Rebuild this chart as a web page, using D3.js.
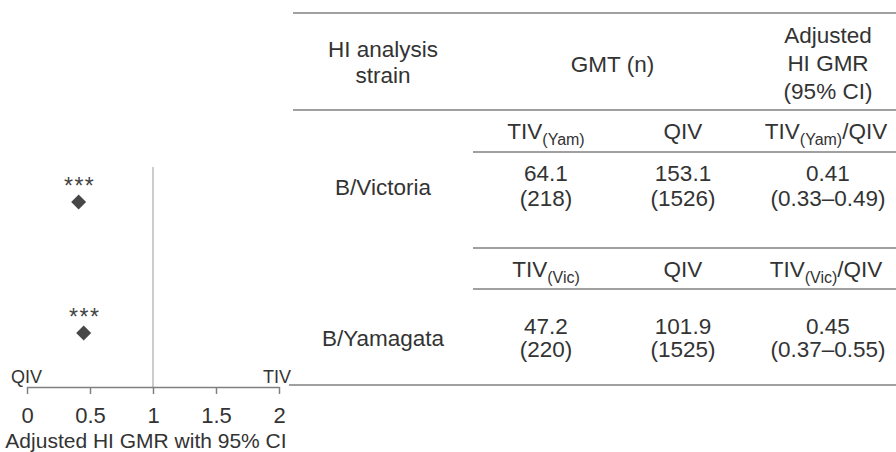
<!DOCTYPE html>
<html>
<head>
<meta charset="utf-8">
<script src="https://cdn.jsdelivr.net/npm/d3@7"></script>
<style>
  html, body { margin: 0; padding: 0; background: #fff; }
  svg { display: block; font-family: "Liberation Sans", Arial, Helvetica, sans-serif; }
</style>
</head>
<body>
<svg id="chart" width="896" height="452"></svg>
<script>
// ---- data ----
const strains = ["B/Victoria", "B/Yamagata"];
const tivStrain = ["Yam", "Vic"];
const gmtTIV = [64.1, 47.2];
const nTIV = [218, 220];
const gmtQIV = [153.1, 101.9];
const nQIV = [1526, 1525];
const gmr = [0.41, 0.45];
const ciLow = [0.33, 0.37];
const ciHigh = [0.49, 0.55];
const significance = ["***", "***"];
const xTicks = [0, 0.5, 1, 1.5, 2];

// ---- layout (positions only) ----
const W = 896, H = 452;
const textColor = "#333";
const lineColor = "#808080";
const fs = 22.5;

const svg = d3.select("#chart");

// Forest plot scales
const x = d3.scaleLinear().domain([0, 2]).range([27, 279]);
const y = d3.scalePoint().domain(strains).range([202, 333]);
const axisY = 387;

// reference line at 1
svg.append("line")
  .attr("x1", x(1)).attr("x2", x(1))
  .attr("y1", 167).attr("y2", axisY)
  .attr("stroke", "#9a9a9a").attr("stroke-width", 1);

// axis
const axis = d3.axisBottom(x).tickValues(xTicks).tickSize(7).tickSizeOuter(0)
  .tickPadding(13).tickFormat(d => String(d));
const gAxis = svg.append("g").attr("transform", `translate(0,${axisY})`).call(axis);
gAxis.select(".domain").attr("stroke", lineColor).attr("stroke-width", 1.5);
gAxis.selectAll(".tick line").attr("stroke", lineColor).attr("stroke-width", 1.5);
gAxis.selectAll(".tick text").attr("fill", textColor)
  .style("font-size", "22px").style("font-family", "Liberation Sans, Arial, sans-serif");

// axis title
svg.append("text").attr("x", 146).attr("y", 448).attr("text-anchor", "middle")
  .attr("fill", textColor).style("font-size", "21px")
  .text("Adjusted HI GMR with 95% CI");

// QIV / TIV labels
svg.append("text").attr("x", 11).attr("y", 383).attr("fill", textColor)
  .style("font-size", "18px").text("QIV");
svg.append("text").attr("x", 291).attr("y", 383).attr("text-anchor", "end")
  .attr("fill", textColor).style("font-size", "18px").text("TIV");

// diamonds
const diamond = d3.symbol().type(d3.symbolSquare).size(112);
svg.append("g").selectAll("path").data(strains).join("path")
  .attr("d", diamond)
  .attr("transform", (d, i) => `translate(${x(gmr[i])},${y(d)}) rotate(45)`)
  .attr("fill", "#474747");

// significance stars
svg.append("g").selectAll("text").data(strains).join("text")
  .attr("x", (d, i) => x(gmr[i]) + 1)
  .attr("y", d => y(d) - 8)
  .attr("text-anchor", "middle")
  .attr("fill", "#444")
  .style("font-size", "23px")
  .style("letter-spacing", "1.5px")
  .text((d, i) => significance[i]);

// ---- table ----
const colStrain = 383, colTIV = 546, colQIV = 683, colGMR = 828;
const tRight = W;

function hline(x1, x2, yy) {
  svg.append("line").attr("x1", x1).attr("x2", x2).attr("y1", yy).attr("y2", yy)
    .attr("stroke", lineColor).attr("stroke-width", 1.6);
}
function txt(xx, yy, s, anchor = "middle", size = fs) {
  return svg.append("text").attr("x", xx).attr("y", yy).attr("text-anchor", anchor)
    .attr("fill", textColor).style("font-size", size + "px").text(s);
}

hline(293, tRight, 13);
hline(293, tRight, 110);
hline(289, tRight, 385);

// header
txt(colStrain, 57, "HI analysis");
txt(colStrain, 83, "strain");
txt((colTIV + colQIV) / 2 - 2, 72, "GMT (n)");
txt(colGMR, 43, "Adjusted");
txt(colGMR, 71, "HI GMR");
txt(colGMR, 99, "(95% CI)");

// per-row layout
const rowLayout = [
  { lineTop: null, sub: 139, lineSub: 152, v1: 181, v2: 206, strain: 195 },
  { lineTop: 248, sub: 277, lineSub: 289, v1: 334, v2: 357, strain: 346 }
];

function subText(xx, yy, main, sub, after) {
  const t = svg.append("text").attr("x", xx).attr("y", yy).attr("text-anchor", "middle")
    .attr("fill", textColor).style("font-size", fs + "px");
  t.append("tspan").text(main);
  t.append("tspan").attr("dy", 6).style("font-size", "16px").text(sub);
  if (after) t.append("tspan").attr("dy", -6).text(after);
}

strains.forEach((s, i) => {
  const L = rowLayout[i];
  if (L.lineTop !== null) hline(473, tRight, L.lineTop);
  hline(473, tRight, L.lineSub);
  subText(colTIV, L.sub, "TIV", `(${tivStrain[i]})`);
  txt(colQIV, L.sub, "QIV");
  subText(colGMR - 2, L.sub, "TIV", `(${tivStrain[i]})`, "/QIV");
  txt(colStrain, L.strain, s);
  txt(colTIV, L.v1, d3.format(".1f")(gmtTIV[i]));
  txt(colTIV, L.v2, `(${nTIV[i]})`);
  txt(colQIV, L.v1, d3.format(".1f")(gmtQIV[i]));
  txt(colQIV, L.v2, `(${nQIV[i]})`);
  txt(colGMR, L.v1, d3.format(".2f")(gmr[i]));
  txt(colGMR, L.v2, `(${d3.format(".2f")(ciLow[i])}\u2013${d3.format(".2f")(ciHigh[i])})`);
});
</script>
</body>
</html>
